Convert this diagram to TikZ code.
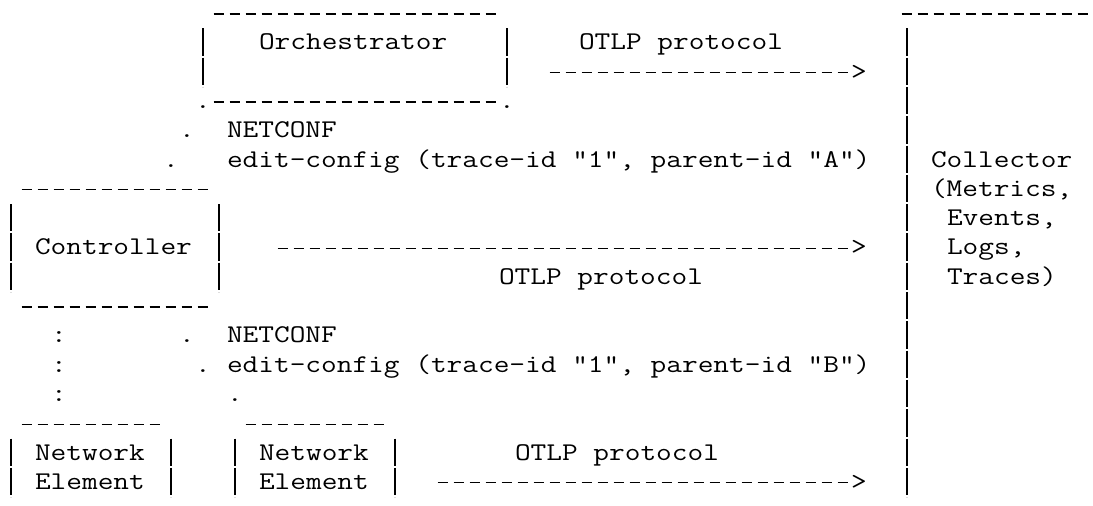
\documentclass[tikz,border=0pt]{standalone}
\usepackage{fontspec}
\usepackage{graphicx}
\newcommand{\ascfont}{\ttfamily\fontsize{25.5pt}{29.3pt}\selectfont}
\newcommand{\T}[1]{\scalebox{1.195}[1]{#1}}
\tikzset{
  lbl/.style={anchor=base west, inner sep=0pt, outer sep=0pt, font=\ascfont, text=black},
  hy/.style={line width=1.25pt, dash pattern=on 10.7pt off 5.3pt},
  vbar/.style={line width=1.2pt, dash pattern=on 27.3pt off 2pt},
}
\begin{document}
\begin{tikzpicture}[x=1pt,y=-1pt]
\useasboundingbox (0,0) rectangle (1093,506);

% ---------- Orchestrator box ----------
\coordinate (orchTL) at (213.65,14);
\coordinate (orchTR) at (496.35,14);
\draw[hy] (orchTL) -- (orchTR);
\draw[vbar] (203,28.3) -- (203,86.9);
\draw[vbar] (507,28.3) -- (507,86.9);
\node[lbl] (orchBL) at (195,108.4) {\T{.}};
\node[lbl] (orchBR) at (499,108.4) {\T{.}};
\coordinate (orchB1) at (213.65,101.9);
\draw[hy] (orchB1) -- (orchB1 -| orchBR.west);
\node[lbl] (orch) at (259,49.8) {\T{Orchestrator}};

% ---------- Collector ----------
\coordinate (colTL) at (901.65,14);
\coordinate (colTR) at (1088.35,14);
\draw[hy] (colTL) -- (colTR);
\draw[vbar] (907,28.3) -- (907,497.1);
\node[lbl] (coll) at (931,167) {\T{Collector}};
\node[lbl] (met) at (931,196.3) {\T{(Metrics,}};
\node[lbl] (evt) at (947,225.6) {\T{Events,}};
\node[lbl] (logs) at (947,254.9) {\T{Logs,}};
\node[lbl] (trc) at (947,284.2) {\T{Traces)}};

% ---------- Orchestrator -> Collector ----------
\node[lbl] (otlpA) at (579,49.8) {\T{OTLP protocol}};
\node[lbl] (tipA) at (851,79.1) {\T{>}};
\coordinate (arrA) at (549.65,72.6);
\draw[hy] (arrA) -- (arrA -| tipA.west);

% ---------- Orchestrator -> Controller (NETCONF) ----------
\node[lbl] (d4) at (179,137.7) {\T{.}};
\node[lbl] (nc1) at (227,137.7) {\T{NETCONF}};
\node[lbl] (d5) at (163,167) {\T{.}};
\node[lbl] (ec1) at (227,167) {\T{edit-config (trace-id "1", parent-id "A")}};

% ---------- Controller box ----------
\coordinate (ctlTL) at (21.65,189.8);
\coordinate (ctlTR) at (208.35,189.8);
\draw[hy] (ctlTL) -- (ctlTR);
\draw[vbar] (11,204.1) -- (11,292);
\draw[vbar] (219,204.1) -- (219,292);
\coordinate (ctlBL) at (21.65,307);
\coordinate (ctlBR) at (208.35,307);
\draw[hy] (ctlBL) -- (ctlBR);
\node[lbl] (ctl) at (35,254.9) {\T{Controller}};

% ---------- Controller -> Collector ----------
\node[lbl] (tipB) at (851,254.9) {\T{>}};
\coordinate (arrB) at (277.65,248.4);
\draw[hy] (arrB) -- (arrB -| tipB.west);
\node[lbl] (otlpB) at (499,284.2) {\T{OTLP protocol}};

% ---------- Controller -> Network Elements ----------
\node[lbl] (c11) at (51,342.8) {\T{:}};
\node[lbl] (c12) at (51,372.1) {\T{:}};
\node[lbl] (c13) at (51,401.4) {\T{:}};
\node[lbl] (d11) at (179,342.8) {\T{.}};
\node[lbl] (nc2) at (227,342.8) {\T{NETCONF}};
\node[lbl] (d12) at (195,372.1) {\T{.}};
\node[lbl] (ec2) at (227,372.1) {\T{edit-config (trace-id "1", parent-id "B")}};
\node[lbl] (d13) at (227,401.4) {\T{.}};

% ---------- Network Element 1 ----------
\coordinate (ne1TL) at (21.65,424.2);
\coordinate (ne1TR) at (160.35,424.2);
\draw[hy] (ne1TL) -- (ne1TR);
\draw[vbar] (11,438.5) -- (11,497.1);
\draw[vbar] (171,438.5) -- (171,497.1);
\node[lbl] (ne1a) at (35,460) {\T{Network}};
\node[lbl] (ne1b) at (35,489.3) {\T{Element}};

% ---------- Network Element 2 ----------
\coordinate (ne2TL) at (245.65,424.2);
\coordinate (ne2TR) at (384.35,424.2);
\draw[hy] (ne2TL) -- (ne2TR);
\draw[vbar] (235,438.5) -- (235,497.1);
\draw[vbar] (395,438.5) -- (395,497.1);
\node[lbl] (ne2a) at (259,460) {\T{Network}};
\node[lbl] (ne2b) at (259,489.3) {\T{Element}};

% ---------- Network Element -> Collector ----------
\node[lbl] (otlpC) at (515,460) {\T{OTLP protocol}};
\node[lbl] (tipC) at (851,489.3) {\T{>}};
\coordinate (arrC) at (437.65,482.8);
\draw[hy] (arrC) -- (arrC -| tipC.west);
\end{tikzpicture}
\end{document}
